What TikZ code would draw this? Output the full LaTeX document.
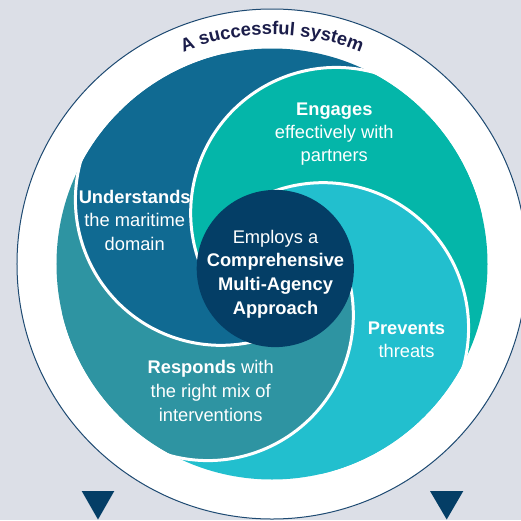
\documentclass[tikz,border=0pt]{standalone}
\usepackage{fontspec}
\setmainfont{Liberation Sans}
\usetikzlibrary{decorations.text}
\definecolor{bgcol}{HTML}{DCDFE7}
\definecolor{ucol}{HTML}{106A92}
\definecolor{rcol}{HTML}{2E94A2}
\definecolor{pcol}{HTML}{22BFCE}
\definecolor{ecol}{HTML}{04B6A9}
\definecolor{ccol}{HTML}{043E66}
\definecolor{ringcol}{HTML}{1E4A72}
\definecolor{titlecol}{HTML}{1B1D4A}
\newcommand{\mytitlefont}{\fontsize{18.4}{20}\selectfont\bfseries}
\begin{document}
\begin{tikzpicture}[x=1pt,y=1pt,
  lbl/.style={text=white, font=\fontsize{18.3}{22}\selectfont, inner sep=0pt, anchor=base},
  sepline/.style={white, line width=3pt},
  marker/.style={fill=ccol}]
\useasboundingbox (-272,-256) rectangle (249,264);
\fill[bgcol] (-272,-256) rectangle (249,264);
\coordinate (C) at (0,0);
\coordinate (OE) at (38.5:82);
\coordinate (OU) at (128.5:82);
\coordinate (OR) at (218.5:82);
\coordinate (OP) at (308.5:82);
% outer white ring
\node[circle, minimum size=510pt, fill=white, draw=ringcol, line width=1pt, inner sep=0pt] (ring) at (C) {};
% swirl
\begin{scope}
  \clip (C) circle (215.5);
  \fill[ucol] (C) -- (61.6:240) arc[start angle=61.6, end angle=151.6, radius=240] -- cycle;
  \fill[rcol] (C) -- (151.6:240) arc[start angle=151.6, end angle=241.6, radius=240] -- cycle;
  \fill[pcol] (C) -- (241.6:240) arc[start angle=241.6, end angle=331.6, radius=240] -- cycle;
  \fill[ecol] (C) -- (331.6:240) arc[start angle=331.6, end angle=421.6, radius=240] -- cycle;
  \fill[ucol] (OU) circle (145.5);
  \fill[ecol] (OE) circle (145.5);
  \fill[pcol] (OP) circle (145.5);
  \fill[rcol] (OR) circle (145.5);
  \begin{scope}
    \clip (OR) circle (147.5);
    \clip (OU) circle (145.5);
    \fill[ucol, even odd rule] (-300,-300) rectangle (300,300) (OE) circle (145.5);
    \fill[ecol] (OE) circle (145.5);
  \end{scope}
\end{scope}
% white separators
\draw[sepline] (OE) ++(70:145.5) arc[start angle=70, end angle=217.45, radius=145.5];
\draw[sepline] (OU) ++(160:145.5) arc[start angle=160, end angle=307.45, radius=145.5];
\draw[sepline] (OR) ++(250:145.5) arc[start angle=250, end angle=397.45, radius=145.5];
\draw[sepline] (OP) ++(340:145.5) arc[start angle=340, end angle=487.45, radius=145.5];
% centre
\node[circle, fill=ccol, minimum size=157.2pt, inner sep=0pt] (core) at (3.3,-4.5) {};
% title
\path[decorate, decoration={text along path, text={|\mytitlefont|A successful system}, text align=center, text color=titlecol}]
  (135:229.5) arc[start angle=135, end angle=45, radius=229.5];
% labels
\node[lbl] (eng1) at (62.3,149) {\bfseries Engages};
\node[lbl] (eng2) at (62.3,125.5) {effectively with};
\node[lbl] (eng3) at (62.3,102.5) {partners};
\node[lbl] (und1) at (-137.3,61) {\bfseries Understands};
\node[lbl] (und2) at (-137.3,37.5) {the maritime};
\node[lbl] (und3) at (-137.3,14) {domain};
\node[lbl] (cen1) at (3.5,20.7) {Employs a};
\node[lbl] (cen2) at (3.5,-2.7) {\bfseries Comprehensive};
\node[lbl] (cen3) at (3.5,-26.7) {\bfseries Multi-Agency};
\node[lbl] (cen4) at (3.5,-50) {\bfseries Approach};
\node[lbl] (res1) at (-61.3,-109.3) {\textbf{Responds} with};
\node[lbl] (res2) at (-61.3,-133.3) {the right mix of};
\node[lbl] (res3) at (-61.3,-157.7) {interventions};
\node[lbl] (pre1) at (134.5,-70) {\bfseries Prevents};
\node[lbl] (pre2) at (134.5,-93.7) {threats};
% markers
\fill[marker] (-190.3,-227) -- (-157.7,-227) -- (-174,-255.5) -- cycle;
\fill[marker] (158,-227) -- (191.3,-227) -- (174.7,-255.5) -- cycle;
\end{tikzpicture}
\end{document}
